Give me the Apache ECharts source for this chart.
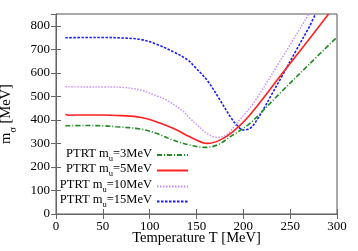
<!DOCTYPE html>
<html><head><meta charset="utf-8">
<script src="https://cdn.jsdelivr.net/npm/echarts@6/dist/echarts.min.js"></script>
<style>html,body{margin:0;padding:0;background:#fff}#c{width:358px;height:251px}</style>
</head><body><div id="c"></div>
<script>
// Temperature T [MeV] and m_sigma [MeV] for each curve
const T3 = [10,30,50,64,90,107,125,143,159,172,189,207,239,270,300];
const m3 = [375,376,375,371,361,343,314,293,283,293,336,385,513,635,752];
const T5 = [10,13,30,50,70,90,107,125,147,161,175,189,207,239,265,291];
const m5 = [424,420,421,421,418,411,392,364,320,300,314,350,421,584,716,850];
const T10 = [10,30,50,71,90,107,118,135,143,161,172,182,196,211,240,270];
const m10 = [541,540,540,538,527,503,484,439,407,343,326,336,400,472,655,850];
const T15 = [10,30,50,71,90,107,125,141,147,161,175,186,193,200,207,212,221,230,241,257,271,277];
const m15 = [749,750,750,748,742,722,690,654,630,570,485,414,378,357,364,385,442,506,584,700,800,850];
const names = ['3MeV','5MeV','10MeV','15MeV'];
const xTicks = [0,50,100,150,200,250,300];
const yTicks = [0,100,200,300,400,500,600,700,800];

const pairs = (t, m) => t.map((v, i) => [v, m[i]]);
const font = 'Liberation Serif';
const chart = echarts.init(document.getElementById('c'));
const styles = [
  {color:'#1f8a1f', type:[5,2,1,2], width:1.6},
  {color:'#ff2020', type:'solid', width:1.6},
  {color:'#c58cff', type:[1.5,1.5], width:1.4},
  {color:'#1a1aff', type:[2.5,1.5], width:1.6}
];
const data = [pairs(T3,m3), pairs(T5,m5), pairs(T10,m10), pairs(T15,m15)];
const series = names.map((n, i) => ({
  name: 'PTRT m_u=' + n, type: 'line', smooth: 0.35, symbol: 'none',
  data: data[i], lineStyle: styles[i], itemStyle: {color: styles[i].color},
  xAxisIndex: 0, yAxisIndex: 0, z: 10 - i
}));
const legendTops = [147, 162.5, 178.5, 193.5];
const legends = series.map((s, i) => ({
  right: 169, top: legendTops[i], orient: 'vertical', align: 'right', padding: 0,
  itemWidth: 31, itemHeight: 10, itemGap: 0, selectedMode: false,
  itemStyle: {opacity: 0}, data: [s.name],
  formatter: n => { const p = n.split('m_u='); return '{a|' + p[0] + 'm}{s|u}{a|=' + p[1] + '}'; },
  textStyle: {fontFamily: font, fontSize: 12.5, color: '#000',
    rich: {a: {fontFamily: font, fontSize: 12.5, color: '#000', lineHeight: 16, verticalAlign: 'top'},
           s: {fontFamily: font, fontSize: 8.5, color: '#000', lineHeight: 16, verticalAlign: 'bottom'}}}
}));
const axisLine = {show: true, lineStyle: {color: '#666', width: 1}};
const tickIn = {show: true, inside: true, length: 5, lineStyle: {color: '#666'}};
chart.setOption({
  animation: false,
  grid: {left: 56, right: 21, top: 14, bottom: 37, containLabel: false, outerBoundsMode: 'none',
    show: true, borderColor: '#555', borderWidth: 1},
  legend: legends,
  xAxis: [{
    type: 'value', min: 0, max: 300, interval: 50,
    name: 'Temperature T [MeV]', nameLocation: 'middle', nameGap: 17, nameMoveOverlap: false,
    nameTextStyle: {fontFamily: font, fontSize: 14.5, color: '#000'},
    axisLine: axisLine, axisTick: tickIn, splitLine: {show: false},
    axisLabel: {fontFamily: font, fontSize: 13, color: '#000', margin: 6,
      formatter: v => xTicks.includes(v) ? String(v) : ''}
  }, {
    type: 'value', min: 0, max: 300, interval: 50, position: 'top',
    axisLine: axisLine, axisTick: tickIn, axisLabel: {show: false}, splitLine: {show: false}
  }],
  yAxis: [{
    type: 'value', min: 0, max: 850, interval: 100,
    name: '{a|m}{s|σ}{a| [MeV]}', nameLocation: 'middle', nameGap: 38, nameRotate: 90, nameMoveOverlap: false,
    nameTextStyle: {fontFamily: font, fontSize: 14.5, color: '#000',
      rich: {a: {fontFamily: font, fontSize: 14.5, color: '#000', lineHeight: 19, verticalAlign: 'top'},
             s: {fontFamily: font, fontSize: 10, color: '#000', lineHeight: 19, verticalAlign: 'bottom'}}},
    axisLine: axisLine, axisTick: tickIn, splitLine: {show: false},
    axisLabel: {fontFamily: font, fontSize: 13, color: '#000', margin: 6, showMaxLabel: false,
      formatter: v => yTicks.includes(v) ? String(v) : ''}
  }, {
    type: 'value', min: 0, max: 850, interval: 100, position: 'right',
    axisLine: axisLine, axisTick: tickIn, axisLabel: {show: false}, splitLine: {show: false}
  }],
  series: series
});
</script></body></html>
